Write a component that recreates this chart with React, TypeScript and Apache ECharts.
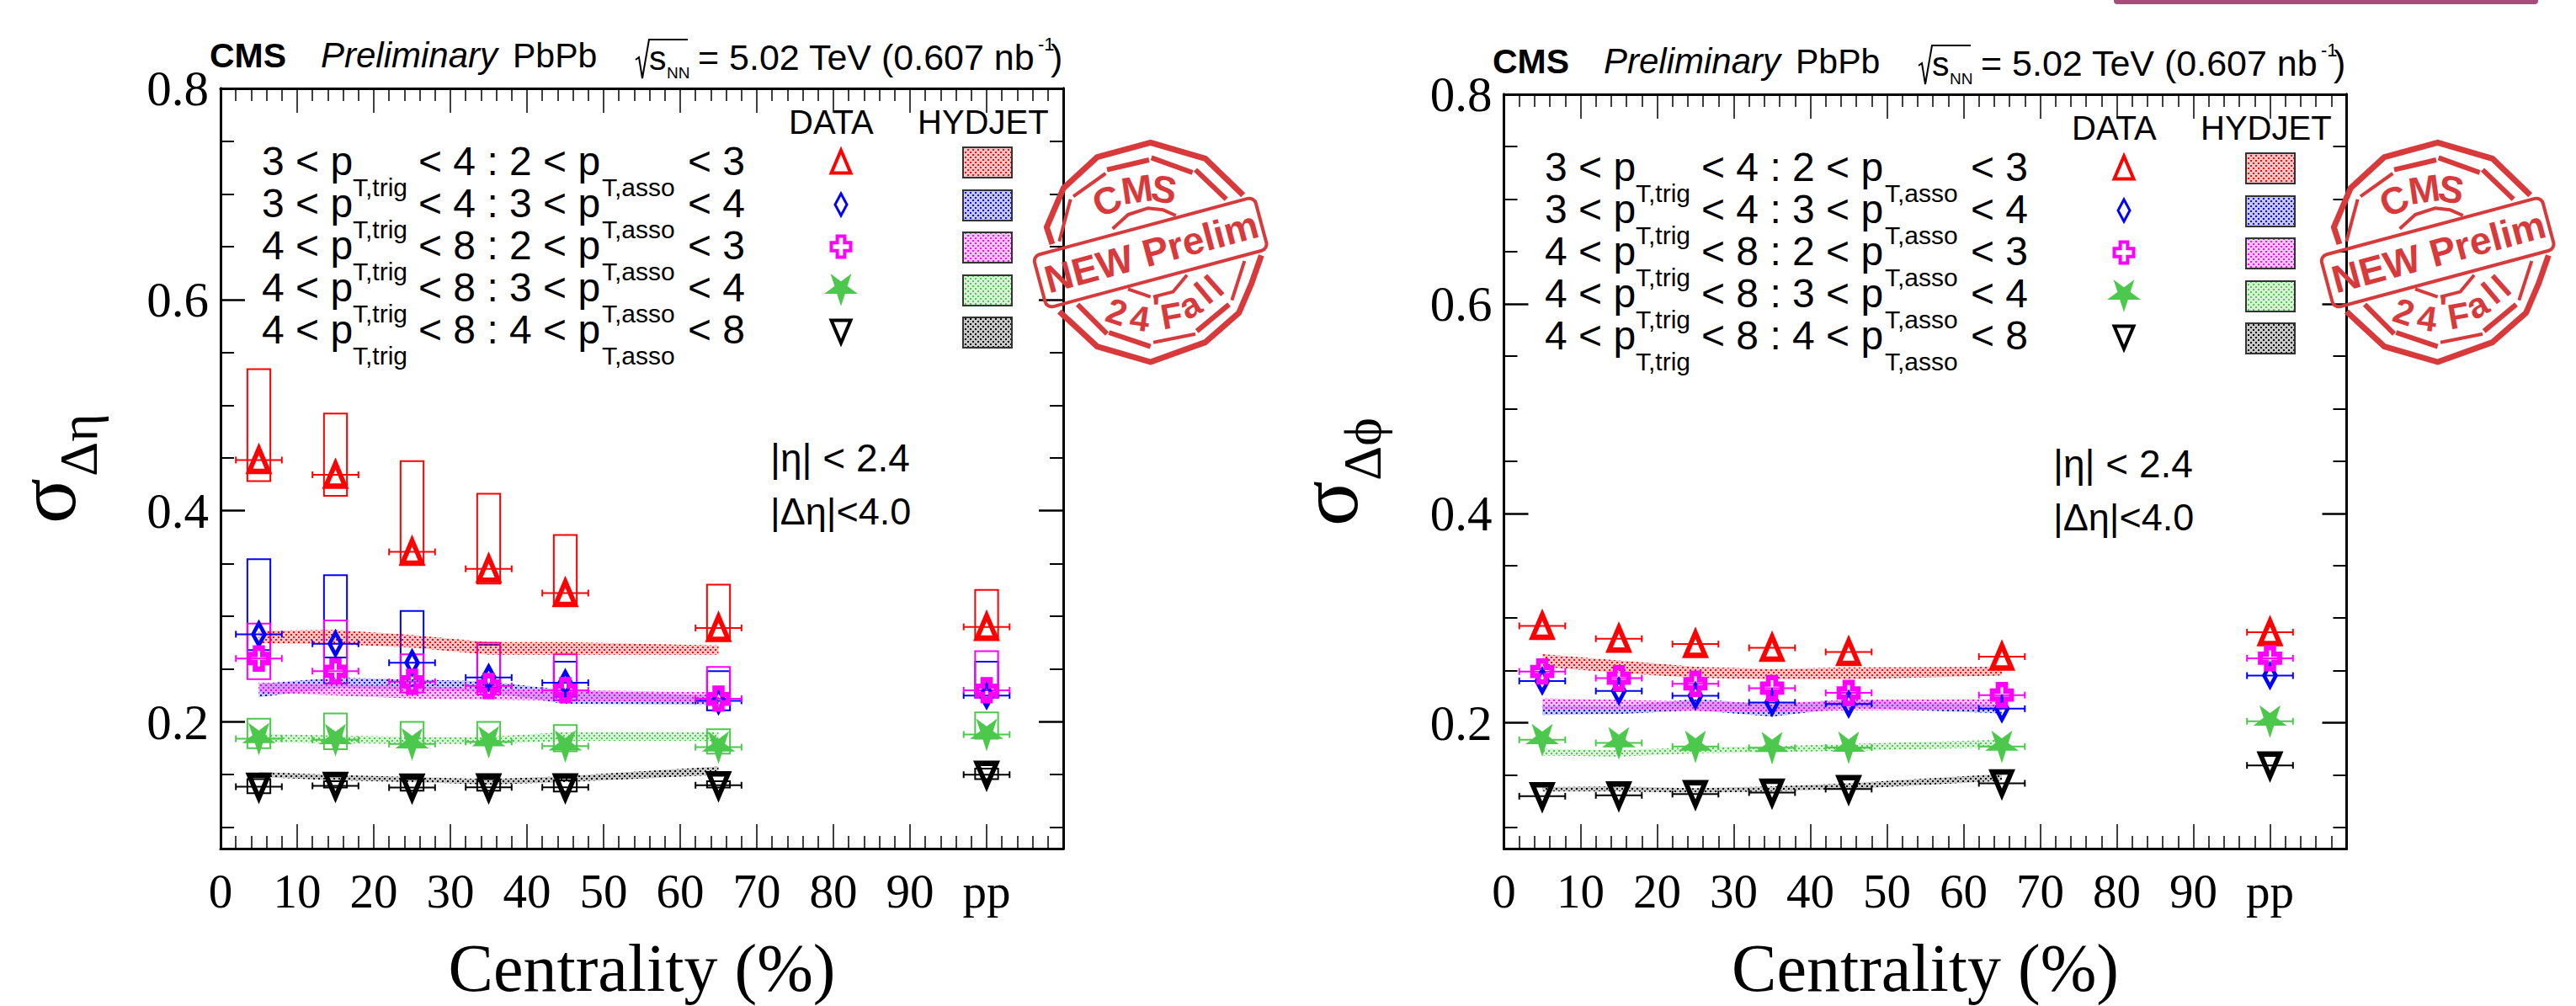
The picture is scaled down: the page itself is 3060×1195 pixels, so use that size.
import React, { useEffect, useRef } from "react";
import * as echarts from "echarts";

const CENTRALITY = [5, 15, 25, 35, 45, 65, 100];
const BAND_X = [5, 15, 25, 35, 45, 65];
const X_TICK_LABELS = ["0", "10", "20", "30", "40", "50", "60", "70", "80", "90", "pp", ""];
const Y_MAJOR = [0.2, 0.4, 0.6, 0.8];
const Y_MINOR = [0.1, 0.15, 0.25, 0.3, 0.35, 0.45, 0.5, 0.55, 0.65, 0.7, 0.75];

const LEFT_RED = [0.448, 0.434, 0.361, 0.345, 0.322, 0.289, 0.29];
const LEFT_BLUE = [0.283, 0.274, 0.256, 0.242, 0.237, 0.22, 0.225];
const LEFT_MAGENTA = [0.26, 0.248, 0.238, 0.234, 0.23, 0.222, 0.23];
const LEFT_GREEN = [0.184, 0.183, 0.179, 0.181, 0.177, 0.176, 0.188];
const LEFT_BLACK = [0.1386, 0.1394, 0.1378, 0.138, 0.138, 0.14, 0.15];

const LEFT_RED_BOX_HIGH = [0.534, 0.492, 0.447, 0.416, 0.377, 0.33, 0.325];
const LEFT_RED_BOX_LOW = [0.428, 0.414, 0.349, 0.331, 0.31, 0.278, 0.28];
const LEFT_BLUE_BOX_HIGH = [0.354, 0.339, 0.305, 0.273, 0.257, 0.248, 0.257];
const LEFT_BLUE_BOX_LOW = [0.268, 0.261, 0.234, 0.232, 0.224, 0.211, 0.223];
const LEFT_MAGENTA_BOX_HIGH = [0.293, 0.296, 0.264, 0.275, 0.264, 0.252, 0.267];
const LEFT_MAGENTA_BOX_LOW = [0.2405, 0.2365, 0.228, 0.226, 0.2206, 0.216, 0.223];
const LEFT_GREEN_BOX_HIGH = [0.203, 0.208, 0.2, 0.2, 0.197, 0.193, 0.209];
const LEFT_GREEN_BOX_LOW = [0.175, 0.174, 0.177, 0.178, 0.172, 0.17, 0.184];
const LEFT_BLACK_BOX_HIGH = [0.1458, 0.1438, 0.1458, 0.1458, 0.1446, 0.1438, 0.1558];
const LEFT_BLACK_BOX_LOW = [0.1325, 0.1378, 0.1349, 0.1349, 0.1341, 0.1378, 0.1458];

const LEFT_RED_BAND_HIGH = [0.2863, 0.2871, 0.2823, 0.2755, 0.2755, 0.2723];
const LEFT_RED_BAND_LOW = [0.2743, 0.2735, 0.2703, 0.2635, 0.2635, 0.2635];
const LEFT_BLUE_BAND_HIGH = [0.2361, 0.2418, 0.2402, 0.2382, 0.2301, 0.2249];
const LEFT_BLUE_BAND_LOW = [0.2233, 0.2321, 0.2301, 0.2281, 0.2169, 0.2161];
const LEFT_MAGENTA_BAND_HIGH = [0.2373, 0.2353, 0.2341, 0.2313, 0.2301, 0.2281];
const LEFT_MAGENTA_BAND_LOW = [0.2281, 0.2249, 0.2221, 0.2209, 0.2201, 0.2181];
const LEFT_GREEN_BAND_HIGH = [0.1888, 0.1871, 0.1859, 0.1859, 0.1904, 0.1904];
const LEFT_GREEN_BAND_LOW = [0.1807, 0.1799, 0.1791, 0.1791, 0.1819, 0.1819];
const LEFT_BLACK_BAND_HIGH = [0.1526, 0.1498, 0.1478, 0.1458, 0.1486, 0.1578];
const LEFT_BLACK_BAND_LOW = [0.1478, 0.1446, 0.143, 0.1406, 0.143, 0.1498];

const RIGHT_RED = [0.2926, 0.2803, 0.2752, 0.2716, 0.2677, 0.2632, 0.2866];
const RIGHT_BLUE = [0.24, 0.2304, 0.2259, 0.2195, 0.218, 0.2135, 0.2451];
const RIGHT_MAGENTA = [0.249, 0.2427, 0.2373, 0.2331, 0.2286, 0.2265, 0.2617];
const RIGHT_GREEN = [0.1838, 0.1808, 0.1774, 0.1762, 0.1765, 0.1774, 0.2015];
const RIGHT_BLACK = [0.13, 0.1308, 0.132, 0.1335, 0.1368, 0.1423, 0.1594];

const RIGHT_RED_BAND_HIGH = [0.2656, 0.2595, 0.2535, 0.2514, 0.2529, 0.2535];
const RIGHT_RED_BAND_LOW = [0.2535, 0.2475, 0.243, 0.2415, 0.2415, 0.2451];
const RIGHT_BLUE_BAND_HIGH = [0.2159, 0.2159, 0.2229, 0.2174, 0.222, 0.2174];
const RIGHT_BLUE_BAND_LOW = [0.2075, 0.2084, 0.212, 0.206, 0.2144, 0.209];
const RIGHT_MAGENTA_BAND_HIGH = [0.2235, 0.222, 0.2205, 0.2189, 0.222, 0.2229];
const RIGHT_MAGENTA_BAND_LOW = [0.2129, 0.2129, 0.2114, 0.2099, 0.212, 0.2129];
const RIGHT_GREEN_BAND_HIGH = [0.1753, 0.1738, 0.1768, 0.1777, 0.1798, 0.1838];
const RIGHT_GREEN_BAND_LOW = [0.1687, 0.1678, 0.1708, 0.1723, 0.1732, 0.1768];
const RIGHT_BLACK_BAND_HIGH = [0.1386, 0.1392, 0.1377, 0.1392, 0.1423, 0.1513];
const RIGHT_BLACK_BAND_LOW = [0.1347, 0.1347, 0.1332, 0.1347, 0.1368, 0.1447];

const RED = "#ff0000";
const BLUE = "#0000ff";
const MAGENTA = "#ff00ff";
const GREEN = "#4cc84c";
const BLACK = "#000000";
const STAMP = "#d83a3c";
const SANS = "'Liberation Sans', Arial, sans-serif";
const SERIF = "'Liberation Serif', 'Times New Roman', serif";

const TRIANGLE = [[0.5, 0], [1, 1], [0, 1]];
const DIAMOND = [[0.5, 0], [1, 0.5], [0.5, 1], [0, 0.5]];
const INV_TRIANGLE = [[0, 0], [1, 0], [0.5, 1]];
const CROSS = [[0.31, 0], [0.69, 0], [0.69, 0.31], [1, 0.31], [1, 0.69], [0.69, 0.69], [0.69, 1], [0.31, 1], [0.31, 0.69], [0, 0.69], [0, 0.31], [0.31, 0.31]];
const STAR = [[0.5, 1], [0.38, 0.62], [0, 0.62], [0.31, 0.38], [0.19, 0], [0.5, 0.24], [0.81, 0], [0.69, 0.38], [1, 0.62], [0.62, 0.62]];

const toPath = (pts: number[][]) =>
  "path://M" + pts.map((p) => `${p[0] * 100} ${p[1] * 100}`).join("L") + "Z";

function pattern(color: string) {
  const c = document.createElement("canvas");
  c.width = 6;
  c.height = 6;
  const g = c.getContext("2d")!;
  g.fillStyle = color;
  g.globalAlpha = 0.22;
  g.fillRect(0, 0, 6, 6);
  g.globalAlpha = 0.95;
  g.fillRect(0, 0, 2, 2);
  g.fillRect(3, 3, 2, 2);
  return { image: c, repeat: "repeat", imageWidth: 6, imageHeight: 6 };
}

const MARKS = [
  { name: "3<pT,trig<4 : 2<pT,asso<3", color: RED, shape: TRIANGLE, size: [23, 27], lw: 6, solid: false },
  { name: "3<pT,trig<4 : 3<pT,asso<4", color: BLUE, shape: DIAMOND, size: [14, 26], lw: 5, solid: false },
  { name: "4<pT,trig<8 : 2<pT,asso<3", color: MAGENTA, shape: CROSS, size: [23, 25], lw: 6, solid: false },
  { name: "4<pT,trig<8 : 3<pT,asso<4", color: GREEN, shape: STAR, size: [31, 30], lw: 3, solid: true },
  { name: "4<pT,trig<8 : 4<pT,asso<8", color: BLACK, shape: INV_TRIANGLE, size: [23, 27], lw: 6, solid: false },
];

function boxSeries(name: string, color: string, low: number[], high: number[], panel: number) {
  return {
    type: "custom",
    name: name + " syst",
    xAxisIndex: panel * 2,
    yAxisIndex: panel * 4,
    z: 2,
    clip: false,
    data: CENTRALITY.map((x, i) => [x, low[i], high[i]]),
    encode: { x: 0, y: [1, 2] },
    renderItem: (_: any, api: any) => {
      const a = api.coord([api.value(0) - 1.5, api.value(2)]);
      const b = api.coord([api.value(0) + 1.5, api.value(1)]);
      return {
        type: "rect",
        shape: { x: a[0], y: a[1], width: b[0] - a[0], height: b[1] - a[1] },
        style: { fill: "none", stroke: color, lineWidth: 2 },
      };
    },
  };
}

function bandSeries(name: string, color: string, low: number[], high: number[], panel: number) {
  const fill = pattern(color);
  return {
    type: "custom",
    name: name + " HYDJET",
    xAxisIndex: panel * 2,
    yAxisIndex: panel * 4,
    z: 3,
    clip: false,
    data: BAND_X.map((x, i) => [x, low[i], high[i]]),
    encode: { x: 0, y: [1, 2] },
    renderItem: (params: any, api: any) => {
      if (params.dataIndex !== 0) return null;
      const top = BAND_X.map((x, i) => api.coord([x, high[i]]));
      const bottom = BAND_X.map((x, i) => api.coord([x, low[i]])).reverse();
      return { type: "polygon", shape: { points: [...top, ...bottom] }, style: { fill, stroke: "none" } };
    },
  };
}

function errorSeries(name: string, color: string, values: number[], panel: number) {
  return {
    type: "custom",
    name: name + " xerr",
    xAxisIndex: panel * 2,
    yAxisIndex: panel * 4,
    z: 4,
    clip: false,
    data: CENTRALITY.map((x, i) => [x, values[i]]),
    encode: { x: 0, y: 1 },
    renderItem: (_: any, api: any) => {
      const a = api.coord([api.value(0) - 3, api.value(1)]);
      const b = api.coord([api.value(0) + 3, api.value(1)]);
      const style = { stroke: color, lineWidth: 2 };
      return {
        type: "group",
        children: [
          { type: "line", shape: { x1: a[0], y1: a[1], x2: b[0], y2: b[1] }, style },
          { type: "line", shape: { x1: a[0], y1: a[1] - 4, x2: a[0], y2: a[1] + 4 }, style },
          { type: "line", shape: { x1: b[0], y1: b[1] - 4, x2: b[0], y2: b[1] + 4 }, style },
        ],
      };
    },
  };
}

function markSeries(m: any, values: number[], panel: number) {
  return {
    type: "scatter",
    name: m.name,
    xAxisIndex: panel * 2,
    yAxisIndex: panel * 4,
    z: 5,
    clip: false,
    symbol: toPath(m.shape),
    symbolSize: m.size,
    symbolKeepAspect: false,
    itemStyle: {
      color: m.solid ? m.color : "rgba(0,0,0,0)",
      borderColor: m.color,
      borderWidth: m.lw,
      borderJoin: "miter",
      borderMiterLimit: 10,
      opacity: 1,
    },
    data: CENTRALITY.map((x, i) => [x, values[i]]),
  };
}

function txt(x: number, base: number, text: string, size: number, extra: any = {}) {
  const family = extra.family || SANS;
  return {
    type: "text",
    x,
    y: base - 0.35 * size,
    z: 10,
    silent: true,
    style: {
      text,
      fill: extra.fill || BLACK,
      font: `${extra.style || "normal"} ${extra.weight || "normal"} ${size}px ${family}`,
      align: extra.align || "left",
      verticalAlign: "middle",
    },
  };
}

function rotated(baseX: number, startY: number, text: string, size: number, weight = "normal") {
  return {
    type: "text",
    x: baseX - 0.35 * size,
    y: startY,
    rotation: Math.PI / 2,
    z: 10,
    silent: true,
    style: { text, fill: BLACK, font: `normal ${weight} ${size}px ${SERIF}`, align: "left", verticalAlign: "middle" },
  };
}

const ROWS = [
  ["3 < p", "< 4 : 2 < p", "< 3"],
  ["3 < p", "< 4 : 3 < p", "< 4"],
  ["4 < p", "< 8 : 2 < p", "< 3"],
  ["4 < p", "< 8 : 3 < p", "< 4"],
  ["4 < p", "< 8 : 4 < p", "< 8"],
];
const ROW_BASE = [208, 258, 308, 358, 408];
const KEY_TOP = [175, 226, 276, 327, 377];

function panelGraphics(dx: number, dy: number) {
  const ch: any[] = [];
  ch.push(txt(249, 80, "CMS", 41, { weight: "bold" }));
  ch.push(txt(381, 80, "Preliminary", 42, { style: "italic" }));
  ch.push(txt(609, 80, "PbPb", 41));
  ch.push({
    type: "polyline",
    z: 10,
    shape: { points: [[755, 71], [759, 68], [763, 93], [771, 47], [817, 47]] },
    style: { stroke: BLACK, lineWidth: 2, fill: "none" },
  });
  ch.push(txt(771, 83, "s", 41));
  ch.push(txt(792, 93, "NN", 19));
  ch.push(txt(829, 83, "= 5.02 TeV (0.607 nb", 43));
  ch.push(txt(1233, 60, "-1", 22));
  ch.push(txt(1248, 83, ")", 43));

  ch.push(txt(937, 159, "DATA", 40));
  ch.push(txt(1090, 159, "HYDJET", 40));

  ROWS.forEach((r, i) => {
    const b = ROW_BASE[i];
    ch.push(txt(311, b, r[0], 48));
    ch.push(txt(419, b + 25, "T,trig", 30));
    ch.push(txt(497, b, r[1], 48));
    ch.push(txt(715, b + 25, "T,asso", 30));
    ch.push(txt(817, b, r[2], 48));
  });

  MARKS.forEach((m, i) => {
    const cx = 999;
    const cy = KEY_TOP[i] + 17;
    const w = m.size[0];
    const h = m.size[1];
    ch.push({
      type: "polygon",
      z: 10,
      shape: { points: m.shape.map((p: number[]) => [cx + (p[0] - 0.5) * w, cy + (p[1] - 0.5) * h]) },
      style: {
        fill: m.solid ? m.color : "none",
        stroke: m.color,
        lineWidth: m.solid ? m.lw : m.lw - 2,
        lineJoin: "miter",
        miterLimit: 10,
      },
    });
    ch.push({
      type: "rect",
      z: 10,
      shape: { x: 1144, y: KEY_TOP[i], width: 58, height: 36 },
      style: { fill: pattern(m.color), stroke: "#333333", lineWidth: 2 },
    });
  });

  ch.push(txt(915, 560, "|η| < 2.4", 46));
  ch.push(txt(915, 623, "|Δη|<4.0", 45));
  return { type: "group", x: dx, y: dy, silent: true, children: ch };
}

function stamp(x: number, y: number) {
  const z = (p: number[]) => [p[0] / 3, p[1] / 3];
  const line = (pts: number[][], w: number) => ({
    type: "polyline",
    z: 12,
    shape: { points: pts.map(z) },
    style: { stroke: STAMP, lineWidth: w, fill: "none", lineJoin: "round" },
  });
  const letter = (px: number, py: number, s: string, size: number, deg: number) => {
    const [lx, ly] = z([px, py]);
    return {
      type: "text",
      x: lx,
      y: ly,
      z: 12,
      rotation: (deg * Math.PI) / 180,
      style: { text: s, fill: STAMP, font: `bold ${size}px ${SANS}`, align: "center", verticalAlign: "middle" },
    };
  };
  const [bx, by] = z([500, 510]);
  return {
    type: "group",
    x,
    y,
    silent: true,
    children: [
      line([[150, 480], [130, 420], [190, 280], [310, 170], [500, 118], [695, 175], [830, 305]], 7),
      line([[895, 520], [860, 620], [815, 725], [695, 830], [500, 900], [310, 845], [175, 720]], 7),
      line([[345, 215], [495, 180]], 6),
      line([[503, 172], [650, 225]], 6),
      line([[660, 215], [770, 320]], 6),
      line([[340, 228], [225, 310]], 4),
      line([[215, 320], [175, 470]], 4),
      line([[240, 695], [345, 800]], 6),
      line([[352, 795], [500, 845]], 6),
      line([[510, 830], [660, 800]], 4),
      line([[665, 790], [780, 695]], 6),
      line([[790, 680], [835, 540]], 4),
      line([[365, 425], [420, 375], [490, 352], [545, 358], [590, 378]], 4),
      line([[420, 640], [500, 668]], 4),
      line([[510, 668], [580, 650], [630, 590]], 4),
      {
        type: "rect",
        x: bx,
        y: by,
        z: 12,
        rotation: (15 * Math.PI) / 180,
        shape: { x: -136, y: -32, width: 272, height: 64, r: 8 },
        style: { fill: "none", stroke: STAMP, lineWidth: 4 },
      },
      letter(503, 508, "NEW Prelim", 46, 15),
      letter(345, 325, "C", 45, 25),
      letter(452, 285, "M", 45, 8),
      letter(548, 285, "S", 45, -10),
      letter(380, 722, "2", 42, -18),
      letter(462, 745, "4", 42, -8),
      letter(520, 705, "'", 42, 0),
      letter(575, 735, "F", 42, 10),
      letter(640, 697, "a", 42, 30),
      letter(690, 655, "l", 42, 40),
      letter(728, 628, "l", 42, 42),
    ],
  };
}

const frame = { show: true, onZero: false, lineStyle: { color: BLACK, width: 3 } };

function xAxes(grid: number) {
  const common = {
    type: "value",
    gridIndex: grid,
    min: 0,
    max: 110,
    interval: 10,
    splitLine: { show: false },
    axisLine: frame,
    axisTick: { show: true, inside: true, length: 29, lineStyle: { color: BLACK, width: 1.5 } },
    minorTick: { show: true, splitNumber: 5, length: 15, lineStyle: { color: BLACK, width: 1.5 } },
    minorSplitLine: { show: false },
  };
  return [
    {
      ...common,
      position: "bottom",
      name: "Centrality (%)",
      nameLocation: "middle",
      nameGap: 102,
      nameMoveOverlap: false,
      nameTextStyle: { fontFamily: SERIF, fontSize: 80, color: BLACK },
      axisLabel: {
        show: true,
        margin: 22,
        fontFamily: SERIF,
        fontSize: 57,
        color: BLACK,
        showMinLabel: true,
        showMaxLabel: false,
        hideOverlap: false,
        formatter: (v: number) => X_TICK_LABELS[Math.round(v / 10)] ?? "",
      },
    },
    { ...common, position: "top", axisLabel: { show: false } },
  ];
}

function yAxes(grid: number) {
  const common = {
    type: "value",
    gridIndex: grid,
    min: 0.08,
    max: 0.8,
    splitLine: { show: false },
    axisLine: frame,
  };
  const major = { show: true, inside: true, length: 29, customValues: Y_MAJOR, lineStyle: { color: BLACK, width: 2.5 } };
  const minor = { show: true, inside: true, length: 16, customValues: Y_MINOR, lineStyle: { color: BLACK, width: 2 } };
  return [
    {
      ...common,
      position: "left",
      axisTick: major,
      axisLabel: {
        show: true,
        inside: false,
        margin: 14,
        fontFamily: SERIF,
        fontSize: 59,
        color: BLACK,
        customValues: Y_MAJOR,
        showMinLabel: true,
        showMaxLabel: true,
        hideOverlap: false,
        formatter: (v: number) => v.toFixed(1),
      },
    },
    { ...common, position: "left", axisTick: minor, axisLabel: { show: false } },
    { ...common, position: "right", axisTick: major, axisLabel: { show: false } },
    { ...common, position: "right", axisTick: minor, axisLabel: { show: false } },
  ];
}

function App() {
  const ref = useRef<HTMLDivElement>(null);
  useEffect(() => {
    const chart = echarts.init(ref.current!, null, { renderer: "svg" });
    const leftBoxes = [
      [LEFT_RED_BOX_LOW, LEFT_RED_BOX_HIGH],
      [LEFT_BLUE_BOX_LOW, LEFT_BLUE_BOX_HIGH],
      [LEFT_MAGENTA_BOX_LOW, LEFT_MAGENTA_BOX_HIGH],
      [LEFT_GREEN_BOX_LOW, LEFT_GREEN_BOX_HIGH],
      [LEFT_BLACK_BOX_LOW, LEFT_BLACK_BOX_HIGH],
    ];
    const bands = [
      [
        [LEFT_RED_BAND_LOW, LEFT_RED_BAND_HIGH],
        [LEFT_BLUE_BAND_LOW, LEFT_BLUE_BAND_HIGH],
        [LEFT_MAGENTA_BAND_LOW, LEFT_MAGENTA_BAND_HIGH],
        [LEFT_GREEN_BAND_LOW, LEFT_GREEN_BAND_HIGH],
        [LEFT_BLACK_BAND_LOW, LEFT_BLACK_BAND_HIGH],
      ],
      [
        [RIGHT_RED_BAND_LOW, RIGHT_RED_BAND_HIGH],
        [RIGHT_BLUE_BAND_LOW, RIGHT_BLUE_BAND_HIGH],
        [RIGHT_MAGENTA_BAND_LOW, RIGHT_MAGENTA_BAND_HIGH],
        [RIGHT_GREEN_BAND_LOW, RIGHT_GREEN_BAND_HIGH],
        [RIGHT_BLACK_BAND_LOW, RIGHT_BLACK_BAND_HIGH],
      ],
    ];
    const values = [
      [LEFT_RED, LEFT_BLUE, LEFT_MAGENTA, LEFT_GREEN, LEFT_BLACK],
      [RIGHT_RED, RIGHT_BLUE, RIGHT_MAGENTA, RIGHT_GREEN, RIGHT_BLACK],
    ];
    const series: any[] = [];
    MARKS.forEach((m, i) => series.push(boxSeries(m.name, m.color, leftBoxes[i][0], leftBoxes[i][1], 0)));
    [0, 1].forEach((p) => {
      MARKS.forEach((m, i) => series.push(bandSeries(m.name, m.color, bands[p][i][0], bands[p][i][1], p)));
      MARKS.forEach((m, i) => series.push(errorSeries(m.name, m.color, values[p][i], p)));
      MARKS.forEach((m, i) => series.push(markSeries(m, values[p][i], p)));
    });
    chart.setOption({
      animation: false,
      backgroundColor: "#ffffff",
      tooltip: { show: false },
      grid: [
        { left: 262, top: 105, width: 1001, height: 908 },
        { left: 1786.5, top: 112, width: 1001, height: 908 },
      ],
      xAxis: [...xAxes(0), ...xAxes(1)],
      yAxis: [...yAxes(0), ...yAxes(1)],
      series,
      graphic: [
        panelGraphics(0, 0),
        panelGraphics(1524, 7),
        rotated(90, 622, "σ", 100),
        rotated(116, 566, "Δη", 64),
        rotated(1613, 625, "σ", 100),
        rotated(1641, 571, "Δϕ", 64),
        stamp(1200, 130),
        stamp(2729, 130),
        {
          type: "rect",
          z: 10,
          shape: { x: 2511, y: -8, width: 504, height: 13, r: 4 },
          style: { fill: "#a84c7c" },
        },
      ],
    });
    return () => chart.dispose();
  }, []);
  return <div ref={ref} style={{ position: "absolute", left: 0, top: 0, width: 3060, height: 1195 }} />;
}

export default App;
